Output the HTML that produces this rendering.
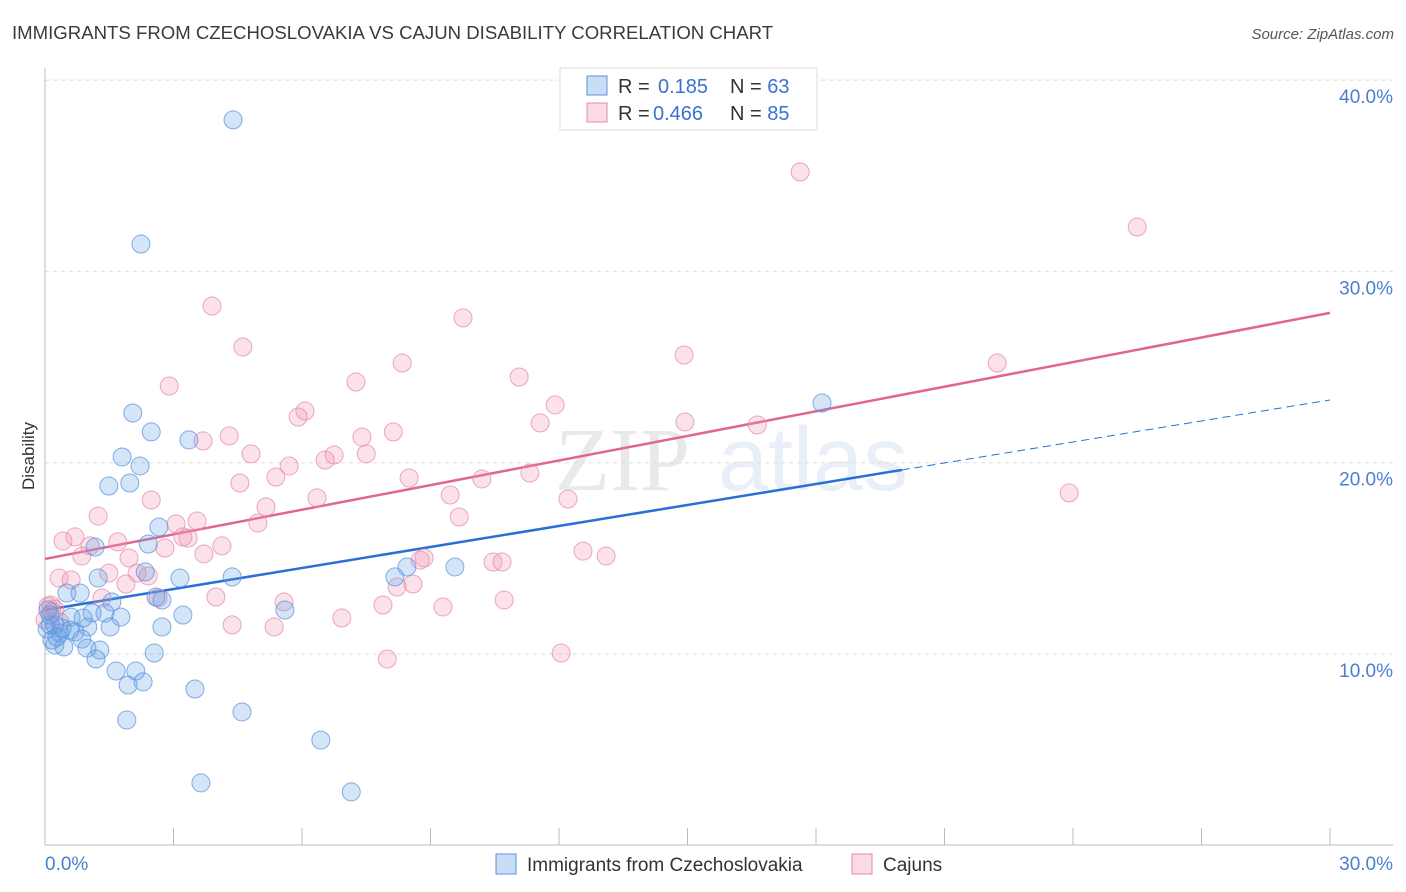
<!DOCTYPE html>
<html><head><meta charset="utf-8"><style>
body{margin:0;background:#fff;font-family:"Liberation Sans",sans-serif}
svg{display:block}
</style></head><body>
<svg id="chart" width="1406" height="892" xmlns="http://www.w3.org/2000/svg">
<text x="12" y="39" font-size="18.6" fill="#3a3a3a">IMMIGRANTS FROM CZECHOSLOVAKIA VS CAJUN DISABILITY CORRELATION CHART</text>
<text x="1394" y="39" font-size="15" fill="#555" font-style="italic" text-anchor="end">Source: ZipAtlas.com</text>
<g font-size="90" opacity="0.12"><text x="555" y="490" font-family="Liberation Serif" fill="#555">ZIP</text><text x="718" y="490" fill="#4a7fd0">atlas</text></g>
<g id="grid"></g>
<g id="axes"></g>
<g id="lines"></g>
<g id="pts"></g>
<text transform="translate(34,456) rotate(-90)" font-size="17" fill="#333" text-anchor="middle">Disability</text>
<g>
<rect x="560" y="68" width="257" height="62" fill="#fff" stroke="#ddd"/>
<rect x="587" y="76" width="20" height="19" fill="rgba(100,160,230,0.35)" stroke="#5b93de"/>
<rect x="587" y="103" width="20" height="19" fill="rgba(240,150,180,0.35)" stroke="#e88aa8"/>
<text x="618" y="93" font-size="20" fill="#333">R = <tspan x="658" fill="#3a72d0">0.185</tspan><tspan x="730">N = </tspan><tspan fill="#3a72d0">63</tspan></text>
<text x="618" y="120" font-size="20" fill="#333">R = <tspan x="653" fill="#3a72d0">0.466</tspan><tspan x="730">N = </tspan><tspan fill="#3a72d0">85</tspan></text>
</g>
<g>
<rect x="496" y="854" width="20" height="20" fill="rgba(100,160,230,0.35)" stroke="#5b93de"/>
<text x="527" y="871" font-size="19" fill="#333">Immigrants from Czechoslovakia</text>
<rect x="852" y="854" width="20" height="20" fill="rgba(240,150,180,0.35)" stroke="#e88aa8"/>
<text x="883" y="871" font-size="19" fill="#333">Cajuns</text>
</g>
</svg>
<script>
const blueX=[4.39,2.24,18.14,2.05,2.48,3.36,1.80,2.22,1.49,1.98,2.66,2.41,1.17,2.34,1.24,3.15,4.37,0.51,0.82,2.59,2.73,1.56,1.40,1.10,1.77,0.61,3.22,0.23,1.00,1.52,2.73,0.05,0.35,0.70,5.60,8.17,8.45,9.57,0.86,0.23,0.44,0.98,1.28,2.55,1.19,1.66,2.12,1.94,2.29,3.50,1.91,4.60,6.44,3.64,7.15,0.12,0.12,0.07,0.28,0.58,0.40,0.89,0.16];
const blueY=[37.92,31.43,23.12,22.60,21.61,21.19,20.30,19.83,18.78,18.94,16.64,15.75,15.59,14.29,13.97,13.97,14.03,13.19,13.19,12.98,12.82,12.72,12.14,12.14,11.93,11.93,12.04,11.52,11.41,11.41,11.41,11.31,11.10,11.15,12.30,14.03,14.55,14.55,10.78,10.47,10.37,10.31,10.21,10.05,9.74,9.11,9.11,8.38,8.54,8.17,6.55,6.97,5.50,3.26,2.79,12.04,11.52,12.30,10.89,11.25,11.36,11.88,10.73];
const pinkX=[17.63,25.50,3.90,9.76,4.62,14.92,22.23,8.34,2.90,11.07,7.26,6.07,5.91,11.91,11.56,14.94,16.63,4.30,3.69,8.13,7.40,4.81,6.75,6.54,7.50,5.70,11.32,5.39,8.50,10.20,4.55,23.91,6.35,9.46,2.48,12.21,5.16,1.24,9.67,4.97,3.06,3.55,0.70,3.22,3.34,1.70,0.42,1.05,4.13,2.80,3.71,0.86,12.56,13.10,1.96,8.85,8.76,10.46,10.67,1.49,2.15,2.41,0.33,0.61,1.89,8.59,8.22,1.33,2.64,3.99,5.58,10.72,0.14,0.23,7.89,9.29,6.93,4.37,5.35,12.05,7.99,0.07,0.16,0,0.35];
const pinkY=[35.20,32.32,28.19,27.57,26.05,25.63,25.21,25.21,24.01,24.48,24.22,22.70,22.39,23.02,22.08,22.13,21.97,21.40,21.14,21.61,21.34,20.46,20.40,20.14,20.46,19.83,19.46,19.25,19.20,19.15,18.94,18.42,18.16,18.31,18.05,18.10,17.69,17.21,17.16,16.85,16.80,16.95,16.12,16.12,16.06,15.86,15.91,15.65,15.65,15.54,15.23,15.12,15.38,15.12,15.02,15.02,14.91,14.81,14.81,14.23,14.23,14.08,13.97,13.87,13.66,13.66,13.50,12.93,12.93,12.98,12.72,12.82,12.56,12.35,12.56,12.46,11.88,11.52,11.41,10.05,9.74,12.51,12.20,11.78,11.67];
const blueTrend=[12.30,0.366];
const pinkTrend=[14.97,0.4287];
const yTicks=[10,20,30,40];
const yTickLabels=["10.0%","20.0%","30.0%","40.0%"];
const NS="http://www.w3.org/2000/svg";
const sx=v=>45+v*1285/30;
const sy=v=>654-(v-10)*19.13;
function mk(tag,at,parent){const e=document.createElementNS(NS,tag);for(const k in at)e.setAttribute(k,at[k]);document.getElementById(parent).appendChild(e);return e;}
yTicks.forEach((t,i)=>{
 const g=mk('line',{x1:45,x2:1393,y1:sy(t),y2:sy(t),stroke:'#ddd','stroke-dasharray':'4,4'},'grid');
 
 
 const l=mk('text',{x:1393,y:sy(t)+23,'font-size':19,fill:'#4a7fd0','text-anchor':'end'},'grid');
 l.textContent=yTickLabels[i];
 
 
});
mk('line',{x1:45,x2:45,y1:68,y2:845,stroke:'#bbb'},'axes');
mk('line',{x1:45,x2:1393,y1:845,y2:845,stroke:'#bbb'},'axes');
for(let i=1;i<=10;i++){const t=mk('line',{x1:sx(i*3),x2:sx(i*3),y1:828,y2:845,stroke:'#bbb'},'axes');
 
 }
const x0=mk('text',{x:45,y:870,'font-size':19,fill:'#4a7fd0'},'axes');x0.textContent='0.0%';


const x1=mk('text',{x:1393,y:870,'font-size':19,fill:'#4a7fd0','text-anchor':'end'},'axes');x1.textContent='30.0%';


function pts(X,Y,fill,stroke,name){X.forEach((x,i)=>{const c=mk('circle',{cx:sx(x),cy:sy(Y[i]),r:9,fill:fill,stroke:stroke,'stroke-width':1,'stroke-opacity':0.75},'pts');
 
 });}
pts(pinkX,pinkY,'rgba(240,150,180,0.28)','#e88aa8','cajun-point');
pts(blueX,blueY,'rgba(100,160,230,0.28)','#5b93de','czech-point');
const f=(tr,x)=>tr[0]+tr[1]*x;
const pl=mk('line',{x1:sx(0),y1:sy(f(pinkTrend,0)),x2:sx(30),y2:sy(f(pinkTrend,30)),stroke:'#e0668f','stroke-width':2.5},'lines');


const bl=mk('line',{x1:sx(0),y1:sy(f(blueTrend,0)),x2:sx(20),y2:sy(f(blueTrend,20)),stroke:'#2a6fd6','stroke-width':2.5},'lines');


const bd=mk('line',{x1:sx(20),y1:sy(f(blueTrend,20)),x2:sx(30),y2:sy(f(blueTrend,30)),stroke:'#2a6fd6','stroke-width':1,'stroke-dasharray':'8,5'},'lines');


</script>
</body></html>
